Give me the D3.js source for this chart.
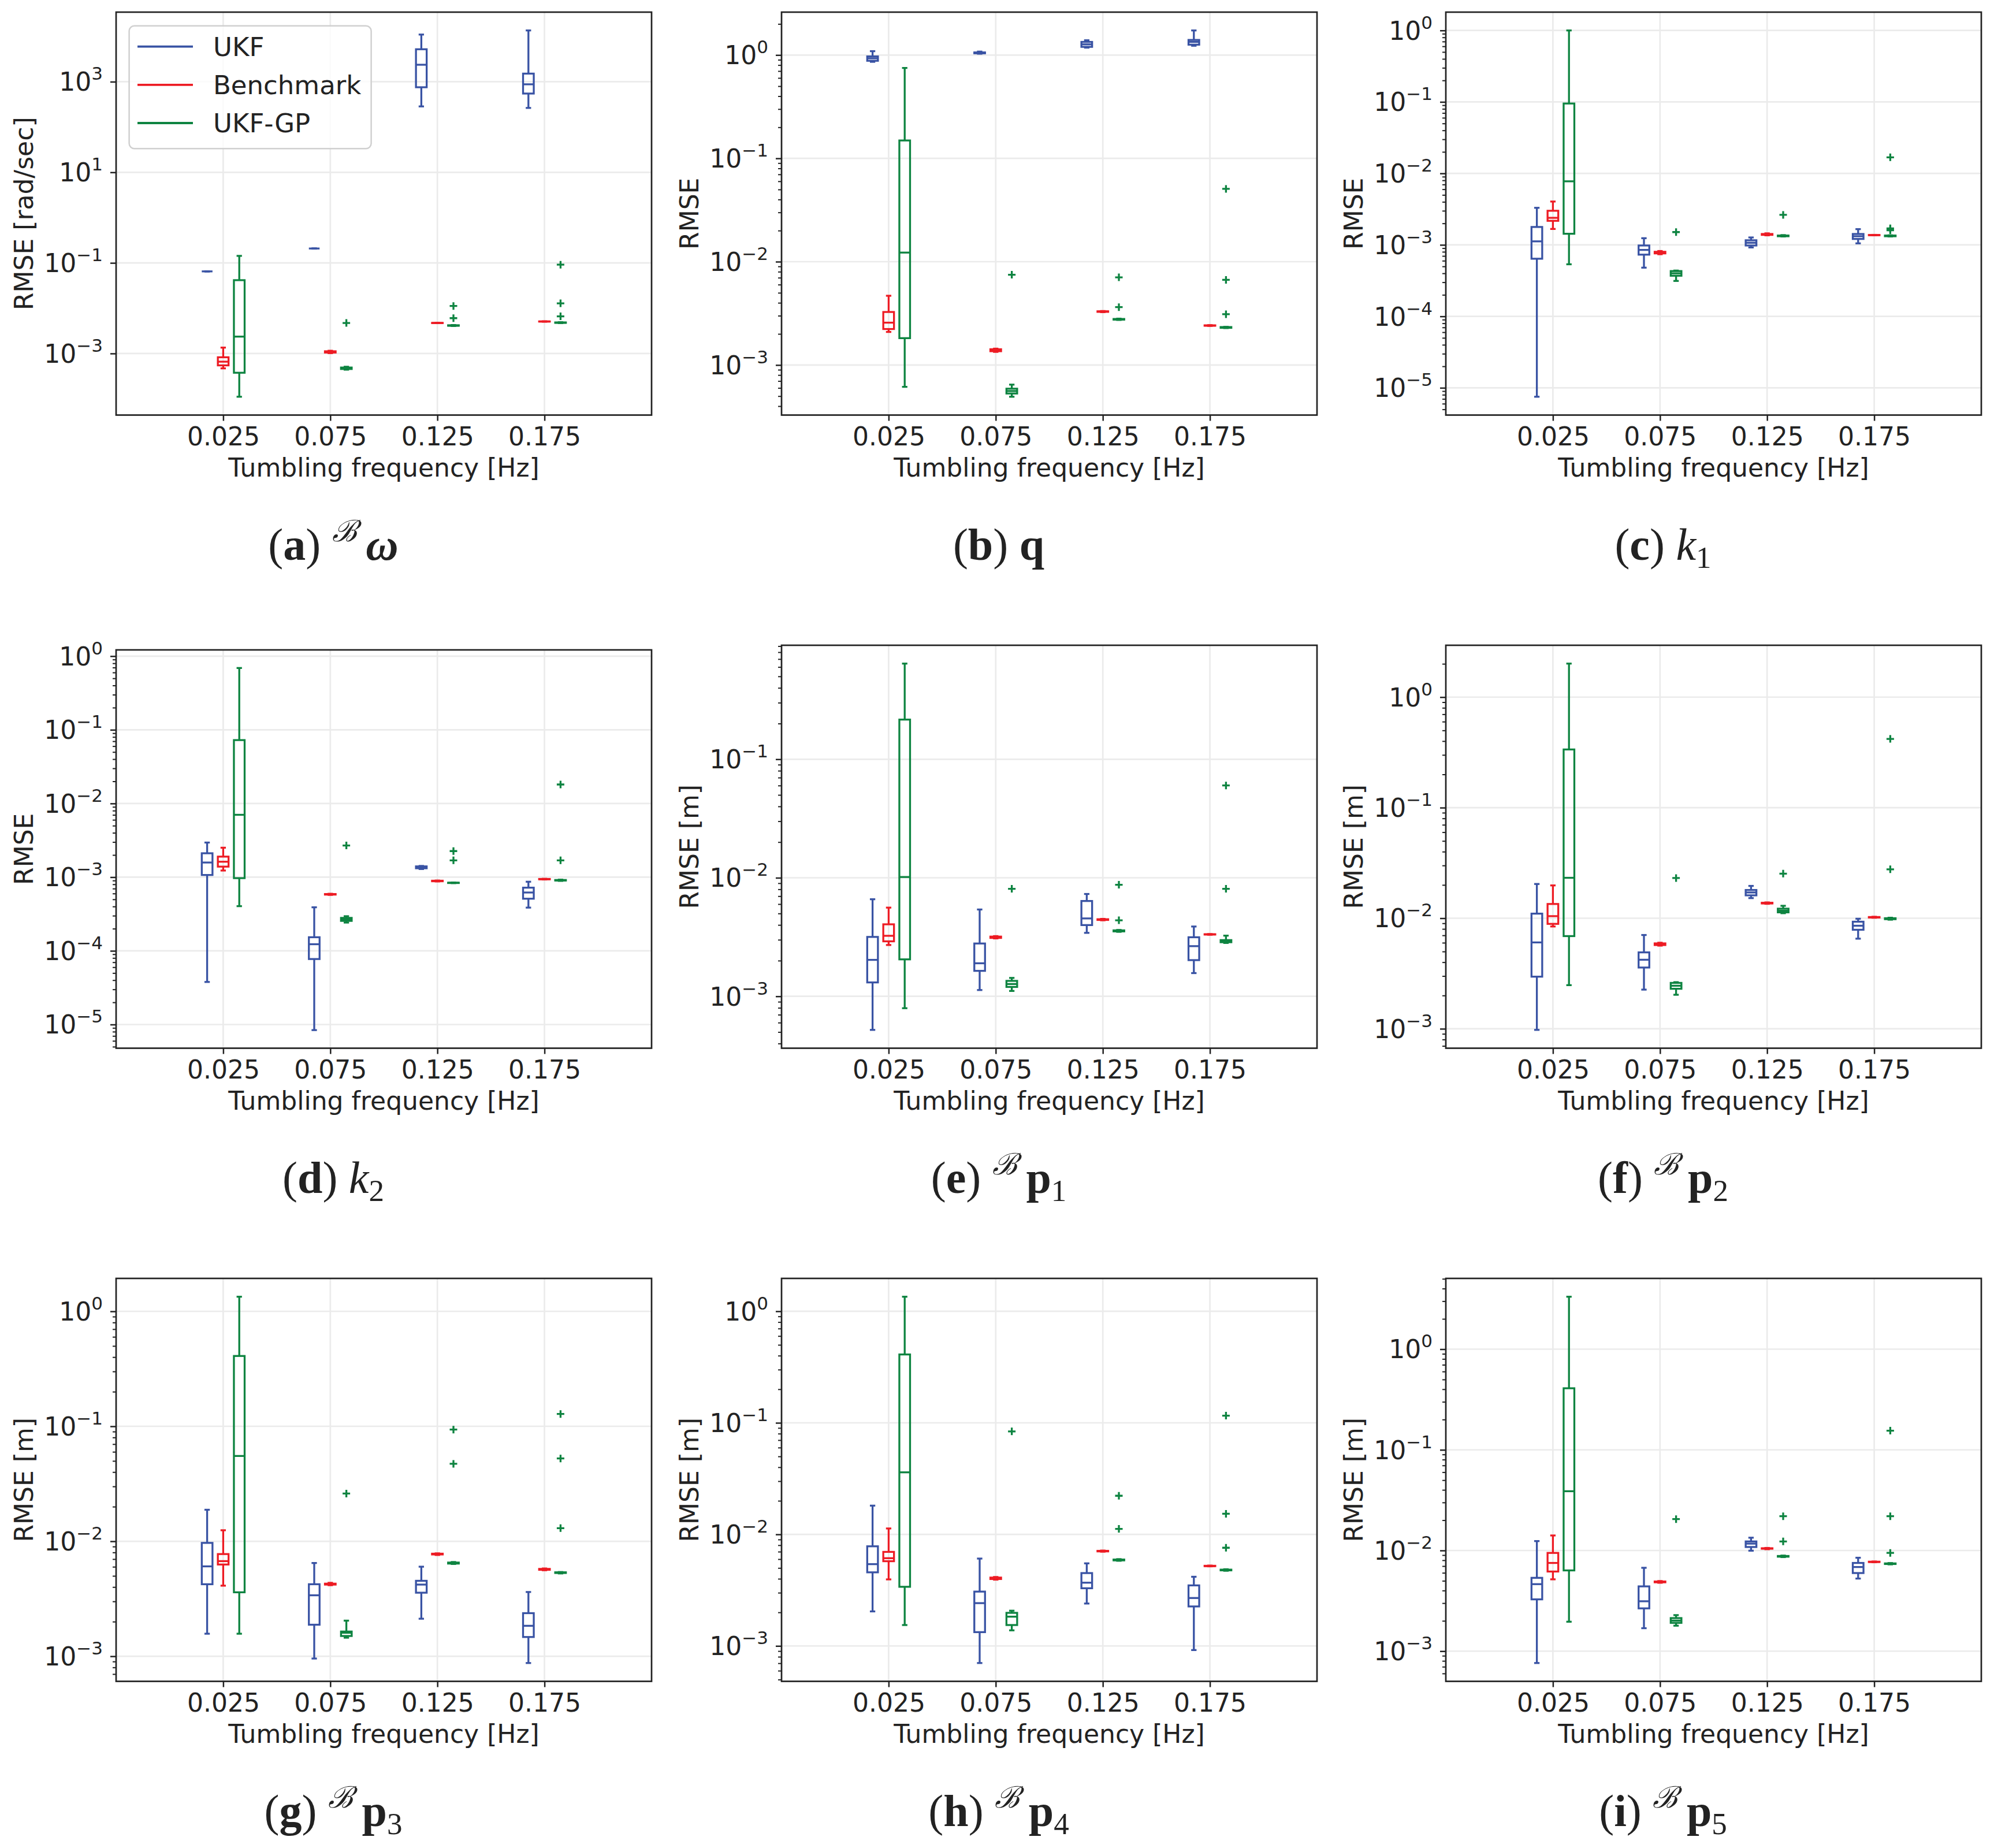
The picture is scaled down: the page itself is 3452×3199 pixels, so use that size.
<!DOCTYPE html>
<html>
<head>
<meta charset="utf-8">
<script src="https://cdn.jsdelivr.net/npm/d3@7"></script>
<style>
body { margin: 0; background: #fff; }
text { fill: #222; }
</style>
</head>
<body>
<svg id="fig"></svg>
<script>
// categories and series
const freqLabels = ["0.025", "0.075", "0.125", "0.175"];
const seriesNames = ["UKF", "Benchmark", "UKF-GP"];
const seriesColors = ["#3953a4", "#ed1c24", "#0e8441"];

// box stats per series, one row per frequency: [whisker low, q1, median, q3, whisker high]
// fliers only show up for UKF-GP, one list per frequency
const statsOmega = [
  [[0.065, 0.065, 0.065, 0.065, 0.065], [0.208, 0.208, 0.208, 0.208, 0.208], [285, 755, 2370, 5210, 11000], [264, 548, 877, 1510, 13550]],
  [[4.7e-4, 5.47e-4, 6.6e-4, 8.26e-4, 1.35e-3], [1.02e-3, 1.05e-3, 1.09e-3, 1.12e-3, 1.15e-3], [4.68e-3, 4.7e-3, 4.72e-3, 4.74e-3, 4.76e-3], [5.05e-3, 5.07e-3, 5.09e-3, 5.11e-3, 5.13e-3]],
  [[1.11e-4, 3.76e-4, 2.36e-3, 0.0416, 0.143], [4.4e-4, 4.55e-4, 4.7e-4, 4.9e-4, 5.1e-4], [4.05e-3, 4.1e-3, 4.14e-3, 4.2e-3, 4.25e-3], [4.7e-3, 4.75e-3, 4.8e-3, 4.85e-3, 4.9e-3]]
];
const fliersOmega = [[], [4.72e-3], [0.0112, 6.03e-3], [0.0914, 0.0128, 6.62e-3]];

const statsQ = [
  [[0.86, 0.88, 0.93, 0.97, 1.09], [1.03, 1.04, 1.05, 1.06, 1.08], [1.18, 1.2, 1.27, 1.34, 1.39], [1.23, 1.26, 1.34, 1.4, 1.73]],
  [[2.09e-3, 2.23e-3, 2.57e-3, 3.26e-3, 4.68e-3], [1.34e-3, 1.36e-3, 1.39e-3, 1.42e-3, 1.44e-3], [3.25e-3, 3.27e-3, 3.29e-3, 3.31e-3, 3.33e-3], [2.39e-3, 2.4e-3, 2.41e-3, 2.42e-3, 2.43e-3]],
  [[6.15e-4, 1.82e-3, 0.01225, 0.149, 0.75], [4.93e-4, 5.3e-4, 5.6e-4, 5.9e-4, 6.46e-4], [2.73e-3, 2.75e-3, 2.77e-3, 2.79e-3, 2.81e-3], [2.28e-3, 2.29e-3, 2.31e-3, 2.33e-3, 2.34e-3]]
];
const fliersQ = [[], [7.48e-3], [7.06e-3, 3.63e-3], [0.0507, 6.67e-3, 3.1e-3]];

const statsK1 = [
  [[7.5e-6, 6.4e-4, 1.12e-3, 1.78e-3, 3.3e-3], [4.8e-4, 7.3e-4, 8.5e-4, 9.8e-4, 1.24e-3], [9.2e-4, 9.8e-4, 1.07e-3, 1.16e-3, 1.27e-3], [1.05e-3, 1.21e-3, 1.32e-3, 1.42e-3, 1.66e-3]],
  [[1.67e-3, 2.17e-3, 2.39e-3, 3.0e-3, 4.04e-3], [7.4e-4, 7.6e-4, 7.8e-4, 8.0e-4, 8.2e-4], [1.36e-3, 1.38e-3, 1.4e-3, 1.42e-3, 1.45e-3], [1.36e-3, 1.365e-3, 1.37e-3, 1.375e-3, 1.38e-3]],
  [[5.35e-4, 1.43e-3, 7.75e-3, 0.095, 1.0], [3.13e-4, 3.7e-4, 4.0e-4, 4.3e-4, 4.37e-4], [1.31e-3, 1.32e-3, 1.34e-3, 1.35e-3, 1.37e-3], [1.31e-3, 1.32e-3, 1.34e-3, 1.35e-3, 1.36e-3]]
];
const fliersK1 = [[], [1.51e-3], [2.63e-3], [0.0168, 1.7e-3, 1.6e-3]];

const statsK2 = [
  [[3.78e-5, 1.07e-3, 1.58e-3, 2.11e-3, 2.95e-3], [8.4e-6, 7.74e-5, 1.23e-4, 1.53e-4, 3.9e-4], [1.29e-3, 1.32e-3, 1.36e-3, 1.4e-3, 1.42e-3], [3.86e-4, 5.1e-4, 6.19e-4, 7.2e-4, 8.67e-4]],
  [[1.23e-3, 1.39e-3, 1.62e-3, 1.9e-3, 2.51e-3], [5.75e-4, 5.8e-4, 5.85e-4, 5.9e-4, 5.95e-4], [8.75e-4, 8.8e-4, 8.87e-4, 8.95e-4, 9.0e-4], [9.3e-4, 9.35e-4, 9.4e-4, 9.45e-4, 9.5e-4]],
  [[4.04e-4, 9.7e-4, 7.02e-3, 0.0725, 0.69], [2.42e-4, 2.55e-4, 2.67e-4, 2.8e-4, 2.95e-4], [8.3e-4, 8.33e-4, 8.37e-4, 8.41e-4, 8.45e-4], [8.9e-4, 9.0e-4, 9.07e-4, 9.15e-4, 9.25e-4]]
];
const fliersK2 = [[], [2.69e-3], [2.26e-3, 1.69e-3], [0.0181, 1.69e-3]];

const statsP1 = [
  [[5.21e-4, 1.31e-3, 2.03e-3, 3.17e-3, 6.59e-3], [1.13e-3, 1.64e-3, 1.9e-3, 2.79e-3, 5.4e-3], [3.43e-3, 3.99e-3, 4.54e-3, 6.37e-3, 7.3e-3], [1.57e-3, 2.02e-3, 2.65e-3, 3.15e-3, 3.88e-3]],
  [[2.71e-3, 2.91e-3, 3.24e-3, 4.05e-3, 5.6e-3], [3.08e-3, 3.11e-3, 3.15e-3, 3.19e-3, 3.22e-3], [4.38e-3, 4.41e-3, 4.44e-3, 4.47e-3, 4.5e-3], [3.31e-3, 3.32e-3, 3.33e-3, 3.34e-3, 3.35e-3]],
  [[7.94e-4, 2.05e-3, 0.01015, 0.216, 0.641], [1.11e-3, 1.2e-3, 1.27e-3, 1.35e-3, 1.43e-3], [3.5e-3, 3.53e-3, 3.56e-3, 3.6e-3, 3.63e-3], [2.82e-3, 2.86e-3, 2.92e-3, 2.98e-3, 3.25e-3]]
];
const fliersP1 = [[], [8.07e-3], [8.73e-3, 4.38e-3], [0.0601, 8.07e-3]];

const statsP2 = [
  [[9.77e-4, 2.96e-3, 6.04e-3, 0.011, 0.0204], [2.26e-3, 3.58e-3, 4.21e-3, 4.91e-3, 7.05e-3], [0.0152, 0.0161, 0.0171, 0.018, 0.0196], [6.53e-3, 7.86e-3, 8.55e-3, 9.3e-3, 9.89e-3]],
  [[8.42e-3, 8.89e-3, 0.01044, 0.01345, 0.0198], [5.65e-3, 5.72e-3, 5.82e-3, 5.92e-3, 6.0e-3], [0.0135, 0.0136, 0.01367, 0.0138, 0.0139], [0.0101, 0.01015, 0.0102, 0.01025, 0.0103]],
  [[2.48e-3, 6.89e-3, 0.0232, 0.336, 2.01], [2.03e-3, 2.3e-3, 2.45e-3, 2.6e-3, 2.64e-3], [0.0111, 0.0113, 0.0117, 0.0122, 0.01295], [9.7e-3, 9.8e-3, 9.9e-3, 0.01, 0.0101]]
];
const fliersP2 = [[], [0.0231], [0.0253], [0.419, 0.0277]];

const statsP3 = [
  [[1.57e-3, 4.23e-3, 6.05e-3, 9.68e-3, 0.0188], [9.55e-4, 1.88e-3, 3.39e-3, 4.23e-3, 6.47e-3], [2.12e-3, 3.57e-3, 4.2e-3, 4.53e-3, 6.01e-3], [8.73e-4, 1.47e-3, 1.84e-3, 2.37e-3, 3.62e-3]],
  [[4.11e-3, 6.28e-3, 6.72e-3, 7.74e-3, 0.01247], [4.15e-3, 4.2e-3, 4.24e-3, 4.28e-3, 4.35e-3], [7.6e-3, 7.68e-3, 7.74e-3, 7.8e-3, 7.85e-3], [5.6e-3, 5.65e-3, 5.7e-3, 5.75e-3, 5.8e-3]],
  [[1.57e-3, 3.6e-3, 0.0552, 0.409, 1.34], [1.45e-3, 1.5e-3, 1.6e-3, 1.64e-3, 2.04e-3], [6.35e-3, 6.4e-3, 6.47e-3, 6.53e-3, 6.6e-3], [5.25e-3, 5.3e-3, 5.33e-3, 5.37e-3, 5.4e-3]]
];
const fliersP3 = [[], [0.026], [0.0937, 0.0472], [0.128, 0.0525, 0.013]];

const statsP4 = [
  [[2.04e-3, 4.57e-3, 5.41e-3, 7.82e-3, 0.0181], [7.03e-4, 1.33e-3, 2.42e-3, 3.07e-3, 6.07e-3], [2.4e-3, 3.29e-3, 3.69e-3, 4.5e-3, 5.5e-3], [9.19e-4, 2.26e-3, 2.69e-3, 3.49e-3, 4.17e-3]],
  [[3.95e-3, 5.75e-3, 6.12e-3, 6.97e-3, 0.0113], [3.93e-3, 3.98e-3, 4.04e-3, 4.1e-3, 4.15e-3], [7.0e-3, 7.04e-3, 7.08e-3, 7.12e-3, 7.16e-3], [5.17e-3, 5.19e-3, 5.21e-3, 5.23e-3, 5.25e-3]],
  [[1.54e-3, 3.39e-3, 0.036, 0.41, 1.35], [1.38e-3, 1.54e-3, 1.83e-3, 1.98e-3, 2.07e-3], [5.8e-3, 5.85e-3, 5.89e-3, 5.95e-3, 6.0e-3], [4.72e-3, 4.76e-3, 4.79e-3, 4.83e-3, 4.87e-3]]
];
const fliersP4 = [[], [0.0838], [0.0222, 0.0112], [0.116, 0.0153, 7.59e-3]];

const statsP5 = [
  [[7.62e-4, 3.27e-3, 4.63e-3, 5.35e-3, 0.0124], [1.69e-3, 2.66e-3, 3.13e-3, 4.4e-3, 6.73e-3], [9.95e-3, 0.01083, 0.0117, 0.0123, 0.0134], [5.26e-3, 5.97e-3, 6.85e-3, 7.52e-3, 8.47e-3]],
  [[5.17e-3, 6.18e-3, 7.52e-3, 9.46e-3, 0.0141], [4.78e-3, 4.83e-3, 4.87e-3, 4.92e-3, 4.97e-3], [0.0103, 0.01042, 0.01047, 0.01052, 0.0106], [7.65e-3, 7.68e-3, 7.71e-3, 7.74e-3, 7.77e-3]],
  [[1.96e-3, 6.34e-3, 0.0388, 0.409, 3.32], [1.79e-3, 1.91e-3, 2.01e-3, 2.13e-3, 2.28e-3], [8.6e-3, 8.68e-3, 8.75e-3, 8.82e-3, 8.9e-3], [7.28e-3, 7.34e-3, 7.39e-3, 7.44e-3, 7.5e-3]]
];
const fliersP5 = [[], [0.0205], [0.0219, 0.0123], [0.155, 0.0219, 9.46e-3]];

const yLabels = ["RMSE [rad/sec]", "RMSE", "RMSE", "RMSE", "RMSE [m]", "RMSE [m]", "RMSE [m]", "RMSE [m]", "RMSE [m]"];
const captionLetters = ["a", "b", "c", "d", "e", "f", "g", "h", "i"];
const captionFrame = ["\u212C", "", "", "", "\u212C", "\u212C", "\u212C", "\u212C", "\u212C"];
const captionSymbol = ["\u03C9", "q", "k", "k", "p", "p", "p", "p", "p"];
const captionIndex = ["", "", "1", "2", "1", "2", "3", "4", "5"];

const allStats = [statsOmega, statsQ, statsK1, statsK2, statsP1, statsP2, statsP3, statsP4, statsP5];
const allFliers = [fliersOmega, fliersQ, fliersK1, fliersK2, fliersP1, fliersP2, fliersP3, fliersP4, fliersP5];

// layout (pixels)
const W = 3452, H = 3199;
const colLeft = [201, 1353, 2503];
const captionX = [577, 1729, 2879];
const rowBottom = [718.5, 1814.5, 2910.5];
const axW = 927;
const axHeights = [697.5, 697.5, 697.5, 689.5, 697.5, 697.5, 697.5, 697.5, 697.5];
const offsets = [-0.15, 0, 0.15];
const boxW = 0.1;
const LW = 3.3;
const FS = 44;
const CAP = 78;
const sansFont = "'DejaVu Sans', sans-serif";
const serifFont = "'Liberation Serif', 'DejaVu Serif', serif";

const svg = d3.select("#fig")
  .attr("width", W)
  .attr("height", H);

svg.append("rect").attr("width", W).attr("height", H).attr("fill", "#fff");

allStats.forEach((stats, pi) => {
  const col = pi % 3, row = Math.floor(pi / 3);
  const h = axHeights[pi];
  const left = colLeft[col];
  const top = rowBottom[row] - h;
  const fliers = allFliers[pi];

  // y range like matplotlib autoscale: data extent plus 5% margin in log space
  const vals = [];
  stats.forEach(s => s.forEach(b => vals.push(b[0], b[4])));
  fliers.forEach(f => f.forEach(v => vals.push(v)));
  const lmin = Math.log10(d3.min(vals)), lmax = Math.log10(d3.max(vals));
  const pad = (lmax - lmin) * 0.05;
  const lo = lmin - pad, hi = lmax + pad;

  const x = d3.scaleLinear().domain([0, 5]).range([0, axW]);
  const y = d3.scaleLog().domain([Math.pow(10, lo), Math.pow(10, hi)]).range([h, 0]);

  const span = hi - lo;
  const stride = span > 7 ? 2 : 1;
  const majors = d3.range(Math.ceil(lo), Math.floor(hi) + 1)
    .filter(e => stride === 1 || Math.abs(e) % 2 === 1);
  const minors = [];
  if (stride === 1) {
    d3.range(Math.floor(lo), Math.ceil(hi) + 1).forEach(e => {
      for (let k = 2; k <= 9; k++) {
        const v = k * Math.pow(10, e);
        if (Math.log10(v) >= lo && Math.log10(v) <= hi) minors.push(v);
      }
    });
  }

  const g = svg.append("g").attr("transform", `translate(${left},${top})`);

  // grid
  g.append("g").selectAll("line")
    .data(majors)
    .join("line")
    .attr("x1", 0).attr("x2", axW)
    .attr("y1", e => y(Math.pow(10, e))).attr("y2", e => y(Math.pow(10, e)))
    .attr("stroke", "#ebebeb").attr("stroke-width", 2.7);
  g.append("g").selectAll("line")
    .data([1, 2, 3, 4])
    .join("line")
    .attr("x1", d => x(d)).attr("x2", d => x(d))
    .attr("y1", 0).attr("y2", h)
    .attr("stroke", "#ebebeb").attr("stroke-width", 2.7);

  // boxes
  stats.forEach((series, si) => {
    const off = offsets[si];
    const data = series.map((b, fi) => ({
      cx: fi + 1 + off, lo: b[0], q1: b[1], med: b[2], q3: b[3], hi: b[4]
    }));
    const sg = g.append("g")
      .attr("stroke", seriesColors[si])
      .attr("stroke-width", LW)
      .attr("fill", "none");

    sg.selectAll(".whisk-lo").data(data).join("line")
      .attr("x1", d => x(d.cx)).attr("x2", d => x(d.cx))
      .attr("y1", d => y(d.q1)).attr("y2", d => y(d.lo));
    sg.selectAll(".whisk-hi").data(data).join("line")
      .attr("x1", d => x(d.cx)).attr("x2", d => x(d.cx))
      .attr("y1", d => y(d.q3)).attr("y2", d => y(d.hi));
    sg.selectAll(".cap-lo").data(data).join("line")
      .attr("x1", d => x(d.cx - boxW / 4)).attr("x2", d => x(d.cx + boxW / 4))
      .attr("y1", d => y(d.lo)).attr("y2", d => y(d.lo));
    sg.selectAll(".cap-hi").data(data).join("line")
      .attr("x1", d => x(d.cx - boxW / 4)).attr("x2", d => x(d.cx + boxW / 4))
      .attr("y1", d => y(d.hi)).attr("y2", d => y(d.hi));
    sg.selectAll(".box").data(data).join("rect")
      .attr("x", d => x(d.cx - boxW / 2))
      .attr("width", x(boxW) - x(0))
      .attr("y", d => y(d.q3))
      .attr("height", d => Math.max(0, y(d.q1) - y(d.q3)));
    sg.selectAll(".median").data(data).join("line")
      .attr("x1", d => x(d.cx - boxW / 2)).attr("x2", d => x(d.cx + boxW / 2))
      .attr("y1", d => y(d.med)).attr("y2", d => y(d.med));
  });

  // fliers (UKF-GP)
  const flierPts = [];
  fliers.forEach((f, fi) => f.forEach(v => flierPts.push({ cx: fi + 1 + offsets[2], v })));
  g.append("g").selectAll("path")
    .data(flierPts)
    .join("path")
    .attr("d", "M-6.5,0H6.5M0,-6.5V6.5")
    .attr("transform", d => `translate(${x(d.cx)},${y(d.v)})`)
    .attr("stroke", seriesColors[2])
    .attr("stroke-width", LW)
    .attr("fill", "none");

  // frame
  g.append("rect")
    .attr("width", axW).attr("height", h)
    .attr("fill", "none").attr("stroke", "#222").attr("stroke-width", 2.7);

  // y axis: major ticks with 10^n labels
  const yAxis = g.append("g")
    .call(d3.axisLeft(y)
      .tickValues(majors.map(e => Math.pow(10, e)))
      .tickSize(10)
      .tickPadding(13)
      .tickFormat(() => "10"))
    .attr("font-size", FS)
    .attr("font-family", sansFont)
    .attr("color", "#222");
  yAxis.select(".domain").remove();
  yAxis.selectAll("line").attr("stroke-width", 2.5);
  yAxis.selectAll("text")
    .attr("dy", "0.35em")
    .each(function(v) {
      const e = Math.round(Math.log10(v));
      d3.select(this).append("tspan")
        .attr("dy", -19)
        .attr("font-size", 31)
        .text(e < 0 ? "\u2212" + (-e) : String(e));
    });

  if (minors.length) {
    const yMinor = g.append("g")
      .call(d3.axisLeft(y).tickValues(minors).tickSize(6).tickFormat(() => ""))
      .attr("color", "#222");
    yMinor.select(".domain").remove();
    yMinor.selectAll("line").attr("stroke-width", 2);
  }

  // x axis
  const xAxis = g.append("g")
    .attr("transform", `translate(0,${h})`)
    .call(d3.axisBottom(x)
      .tickValues([1, 2, 3, 4])
      .tickSize(10)
      .tickPadding(11)
      .tickFormat((d, i) => freqLabels[i]))
    .attr("font-size", FS)
    .attr("font-family", sansFont)
    .attr("color", "#222");
  xAxis.select(".domain").remove();
  xAxis.selectAll("line").attr("stroke-width", 2.5);

  g.append("text")
    .attr("x", axW / 2)
    .attr("y", h + 106)
    .attr("text-anchor", "middle")
    .attr("font-family", sansFont)
    .attr("font-size", FS)
    .text("Tumbling frequency [Hz]");

  g.append("text")
    .attr("transform", `translate(-144,${h / 2}) rotate(-90)`)
    .attr("text-anchor", "middle")
    .attr("font-family", sansFont)
    .attr("font-size", FS)
    .text(yLabels[pi]);

  // sub-caption
  const cap = svg.append("text")
    .attr("x", captionX[col])
    .attr("y", rowBottom[row] + 250)
    .attr("text-anchor", "middle")
    .attr("font-family", serifFont)
    .attr("font-size", CAP);
  cap.append("tspan").attr("font-weight", "normal").text("(");
  cap.append("tspan").attr("font-weight", "bold").text(captionLetters[pi]);
  cap.append("tspan").attr("font-weight", "normal").text(") ");
  if (captionFrame[pi]) {
    cap.append("tspan").attr("font-size", CAP * 0.66).attr("font-style", "italic").attr("dy", -CAP * 0.4).text(captionFrame[pi]);
    cap.append("tspan").attr("dy", CAP * 0.4).text("\u2009");
  }
  const isVector = pi !== 2 && pi !== 3;
  cap.append("tspan")
    .attr("font-weight", isVector ? "bold" : "normal")
    .attr("font-style", pi === 0 || !isVector ? "italic" : "normal")
    .text(captionSymbol[pi]);
  if (captionIndex[pi]) {
    cap.append("tspan").attr("font-size", CAP * 0.68).attr("dy", CAP * 0.19).text(captionIndex[pi]);
  }
});

// legend in panel (a)
const legend = svg.append("g");
legend.append("rect")
  .attr("x", 223.6).attr("y", 44.8)
  .attr("width", 419).attr("height", 212.4)
  .attr("rx", 9)
  .attr("fill", "#fff").attr("fill-opacity", 0.8)
  .attr("stroke", "#d0d0d0").attr("stroke-width", 2.5);
const legendRows = legend.selectAll(".row")
  .data(seriesNames)
  .join("g")
  .attr("transform", (d, i) => `translate(0,${80.6 + i * 66.2})`);
legendRows.append("line")
  .attr("x1", 238).attr("x2", 334)
  .attr("stroke", (d, i) => seriesColors[i])
  .attr("stroke-width", 3.8);
legendRows.append("text")
  .attr("x", 369)
  .attr("dy", "0.36em")
  .attr("font-family", sansFont)
  .attr("font-size", 45)
  .text(d => d);
</script>
</body>
</html>
